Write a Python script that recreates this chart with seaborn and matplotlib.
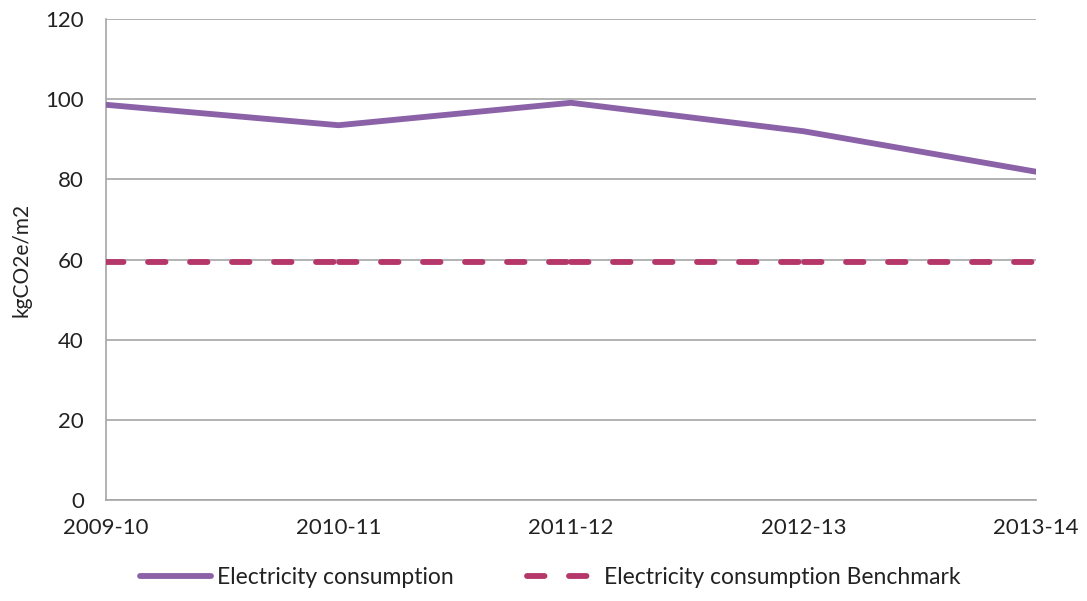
import matplotlib
matplotlib.use("Agg")
import matplotlib.pyplot as plt
import seaborn as sns
import pandas as pd
from matplotlib.lines import Line2D

years = ["2009-10", "2010-11", "2011-12", "2012-13", "2013-14"]
consumption = [98.6, 93.5, 99.1, 92.0, 81.9]
benchmark = [59.3, 59.3, 59.3, 59.3, 59.3]
y_ticks = [0, 20, 40, 60, 80, 100, 120]

sns.set_theme(style="white")
plt.rcParams["font.family"] = ["Lato", "DejaVu Sans"]

PURPLE = "#8B61A8"
PINK = "#B5376A"
GRID = "#A6A6A6"
TXT = "#222222"

fig = plt.figure(figsize=(10.87, 6.01), dpi=100)
ax = fig.add_axes([106 / 1087, 1 - 500 / 601, (1036 - 106) / 1087, (500 - 19) / 601])

x = list(range(len(years)))
df = pd.DataFrame({"x": x, "y": consumption})
sns.lineplot(data=df, x="x", y="y", ax=ax, color=PURPLE, linewidth=4.2,
             solid_capstyle="round", legend=False, zorder=3)

# benchmark drawn per category segment (dash pattern restarts at each point)
rows = []
for i in range(len(years) - 1):
    rows.append({"x": x[i], "y": benchmark[i], "seg": i})
    rows.append({"x": x[i + 1], "y": benchmark[i + 1], "seg": i})
bdf = pd.DataFrame(rows)
n_before = len(ax.lines)
sns.lineplot(data=bdf, x="x", y="y", units="seg", estimator=None, ax=ax,
             color=PINK, linewidth=4.2, zorder=3, legend=False)
for ln in ax.lines[n_before:]:
    ln.set_dashes([3.0, 4.2])
    ln.set_dash_capstyle("round")

ax.set_xlim(0, len(years) - 1)
ax.set_ylim(0, 120)
ax.set_yticks(y_ticks)
ax.set_xticks(x)
ax.set_xticklabels(years)
ax.set_xlabel("")
ax.set_ylabel("kgCO2e/m2", fontsize=15, color=TXT)
ax.yaxis.set_label_coords(-0.08, 0.5)

ax.grid(axis="y", color=GRID, linewidth=1.2)
ax.grid(axis="x", visible=False)
ax.set_axisbelow(True)
for s in ["top", "right"]:
    ax.spines[s].set_visible(False)
for s in ["left", "bottom"]:
    ax.spines[s].set_color(GRID)
    ax.spines[s].set_linewidth(1.2)

ax.tick_params(axis="y", length=0, pad=16, labelsize=16, labelcolor=TXT)
ax.tick_params(axis="x", length=0, pad=13, labelsize=16, labelcolor=TXT)

# legend
h1 = Line2D([], [], color=PURPLE, linewidth=4.2, solid_capstyle="round")
h2 = Line2D([], [], color=PINK, linewidth=4.2, dashes=[3.0, 4.2], dash_capstyle="round")
fig.legend([h1, h2], ["Electricity consumption", "Electricity consumption Benchmark"],
           loc="center", bbox_to_anchor=(550 / 1087, 1 - 578 / 601), ncol=2,
           frameon=False, handlelength=3.1, handletextpad=0.25,
           columnspacing=3.2, labelcolor=TXT, fontsize=16.5)

fig.savefig("out.png", dpi=100)
